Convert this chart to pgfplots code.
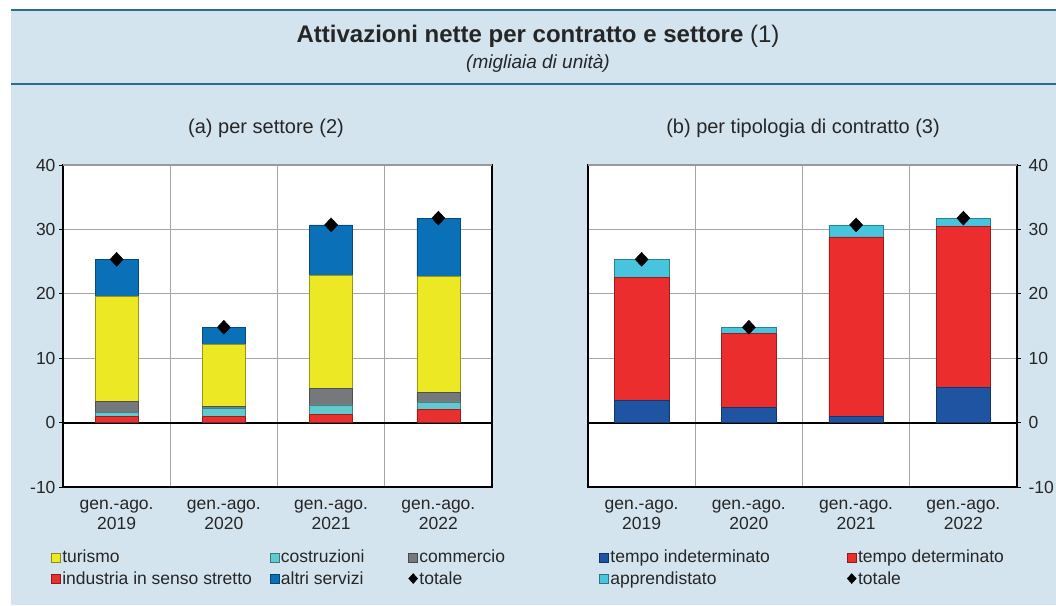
\documentclass[border=0pt]{standalone}
\usepackage{fontspec}
\setmainfont{Liberation Sans}
\usepackage{pgfplots}
\pgfplotsset{compat=1.18}

\definecolor{bg}{HTML}{D3E4EE}
\definecolor{rule}{HTML}{2A6E8C}
\definecolor{ctur}{HTML}{EDE824}
\definecolor{ccos}{HTML}{62C9CF}
\definecolor{ccom}{HTML}{76797B}
\definecolor{cind}{HTML}{E8302F}
\definecolor{calt}{HTML}{0A70B8}
\definecolor{cti}{HTML}{1F54A3}
\definecolor{ctd}{HTML}{EB2D2E}
\definecolor{capp}{HTML}{47C4DE}

\newcommand\sqimg[1]{\addlegendimage{legend image code/.code={\draw[fill=#1,draw=#1!60!black,line width=0.6pt] (-1pt,-4.5pt) rectangle (8pt,4.5pt);}}}
\newcommand\dmimg{\addlegendimage{legend image code/.code={\fill[black] (3.5pt,-5pt) -- (8pt,0pt) -- (3.5pt,5pt) -- (-1pt,0pt) -- cycle;}}}

\pgfplotsset{
  geom/.style={scale only axis, width=429pt, height=322pt,
    xmin=-0.5, xmax=3.5, ymin=-10, ymax=40},
  panel/.style={geom,
    axis background/.style={fill=white},
    ytick={-10,0,...,40},
    xtick={0,1,2,3},
    xticklabels={{gen.-ago.\\2019},{gen.-ago.\\2020},{gen.-ago.\\2021},{gen.-ago.\\2022}},
    minor xtick={0.5,1.5,2.5},
    xminorgrids, ymajorgrids,
    grid style={black!35, line width=1pt},
    minor grid style={black!35, line width=1pt},
    major x tick style={draw=none},
    minor tick length=0pt,
    tick align=outside, major tick length=4pt,
    y tick style={black, line width=0.8pt},
    axis line style={black, line width=1.2pt},
    tick label style={font=\fontsize{17.5}{19.5}\selectfont, text=black!85},
    xticklabel style={align=center, yshift=-6pt},
    /pgf/number format/assume math mode=true,
    extra y ticks={0}, extra y tick labels={},
    extra y tick style={grid style={black, line width=1.8pt}, major tick length=0pt},
    ybar stacked,
    legend columns=3,
    legend style={draw=none, fill=none, anchor=north west, column sep=0pt, row sep=4pt,
      font=\fontsize{17.5}{20.5}\selectfont, text=black!85,
      nodes={inner sep=1.5pt}, cells={anchor=west}},
  },
  tot/.style={geom, hide axis},
  dm/.style={only marks, mark=diamond*, mark size=7pt,
    mark options={xscale=1.25, fill=black, draw=black}},
}

\begin{document}
\begin{tikzpicture}[x=1pt,y=1pt]
\fill[bg] (11,0) rectangle (1056,595);
\draw[rule, line width=2pt] (11,595) -- (1056,595);
\draw[rule, line width=2pt] (11,521) -- (1056,521);
\node[font=\fontsize{24}{28}\selectfont, text=black!85] at (538,569) {\textbf{Attivazioni nette per contratto e settore} (1)};
\node[font=\fontsize{19}{22}\selectfont\itshape, text=black!85] at (538,542) {(migliaia di unità)};
\node[font=\fontsize{20}{23}\selectfont, text=black!85] at (266,477) {(a) per settore (2)};
\node[font=\fontsize{20}{23}\selectfont, text=black!85] at (803,477) {(b) per tipologia di contratto (3)};

% (a) per settore
\begin{axis}[panel, at={(63pt,118pt)}, anchor=south west, bar width=0.40,
  ytick pos=left, yticklabel pos=left,
  legend style={at={(axis description cs:-0.035,-0.185)}}]
\addplot[forget plot, fill=cind, draw=cind!65!black, line width=0.5pt] coordinates {(0,1.0) (1,0.95) (2,1.3) (3,2.05)};
\addplot[forget plot, fill=ccos, draw=ccos!65!black, line width=0.5pt] coordinates {(0,0.55) (1,1.35) (2,1.45) (3,1.15)};
\addplot[forget plot, fill=ccom, draw=ccom!65!black, line width=0.5pt] coordinates {(0,1.7) (1,0.25) (2,2.6) (3,1.45)};
\addplot[forget plot, fill=ctur, draw=ctur!65!black, line width=0.5pt] coordinates {(0,16.4) (1,9.65) (2,17.5) (3,18.05)};
\addplot[forget plot, fill=calt, draw=calt!65!black, line width=0.5pt] coordinates {(0,5.7) (1,2.6) (2,7.85) (3,9.05)};
\sqimg{ctur}\addlegendentry{\makebox[206pt][l]{turismo}}
\sqimg{ccos}\addlegendentry{\makebox[126pt][l]{costruzioni}}
\sqimg{ccom}\addlegendentry{commercio}
\sqimg{cind}\addlegendentry{\makebox[206pt][l]{industria in senso stretto}}
\sqimg{calt}\addlegendentry{\makebox[126pt][l]{altri servizi}}
\dmimg\addlegendentry{totale}
\draw[black!40, line width=1.2pt] (rel axis cs:0,1) -- (rel axis cs:1,1);
\end{axis}
\begin{axis}[tot, at={(63pt,118pt)}, anchor=south west]
\addplot[dm] coordinates {(0,25.35) (1,14.8) (2,30.7) (3,31.75)};
\end{axis}

% (b) per tipologia di contratto
\begin{axis}[panel, at={(588pt,118pt)}, anchor=south west, bar width=0.51,
  ytick pos=right, yticklabel pos=right,
  yticklabel style={xshift=4pt},
  legend columns=2,
  legend style={at={(axis description cs:0.019,-0.185)}}]
\addplot[forget plot, fill=cti, draw=cti!65!black, line width=0.5pt] coordinates {(0,3.4) (1,2.35) (2,0.95) (3,5.5)};
\addplot[forget plot, fill=ctd, draw=ctd!65!black, line width=0.5pt] coordinates {(0,19.15) (1,11.5) (2,27.9) (3,25.0)};
\addplot[forget plot, fill=capp, draw=capp!65!black, line width=0.5pt] coordinates {(0,2.8) (1,0.95) (2,1.85) (3,1.25)};
\sqimg{cti}\addlegendentry{\makebox[235pt][l]{tempo indeterminato}}
\sqimg{ctd}\addlegendentry{tempo determinato}
\sqimg{capp}\addlegendentry{\makebox[235pt][l]{apprendistato}}
\dmimg\addlegendentry{totale}
\draw[black!40, line width=1.2pt] (rel axis cs:0,1) -- (rel axis cs:1,1);
\end{axis}
\begin{axis}[tot, at={(588pt,118pt)}, anchor=south west]
\addplot[dm] coordinates {(0,25.35) (1,14.8) (2,30.7) (3,31.75)};
\end{axis}

\pgfresetboundingbox
\path (0,0) rectangle (1056,605);
\end{tikzpicture}
\end{document}
